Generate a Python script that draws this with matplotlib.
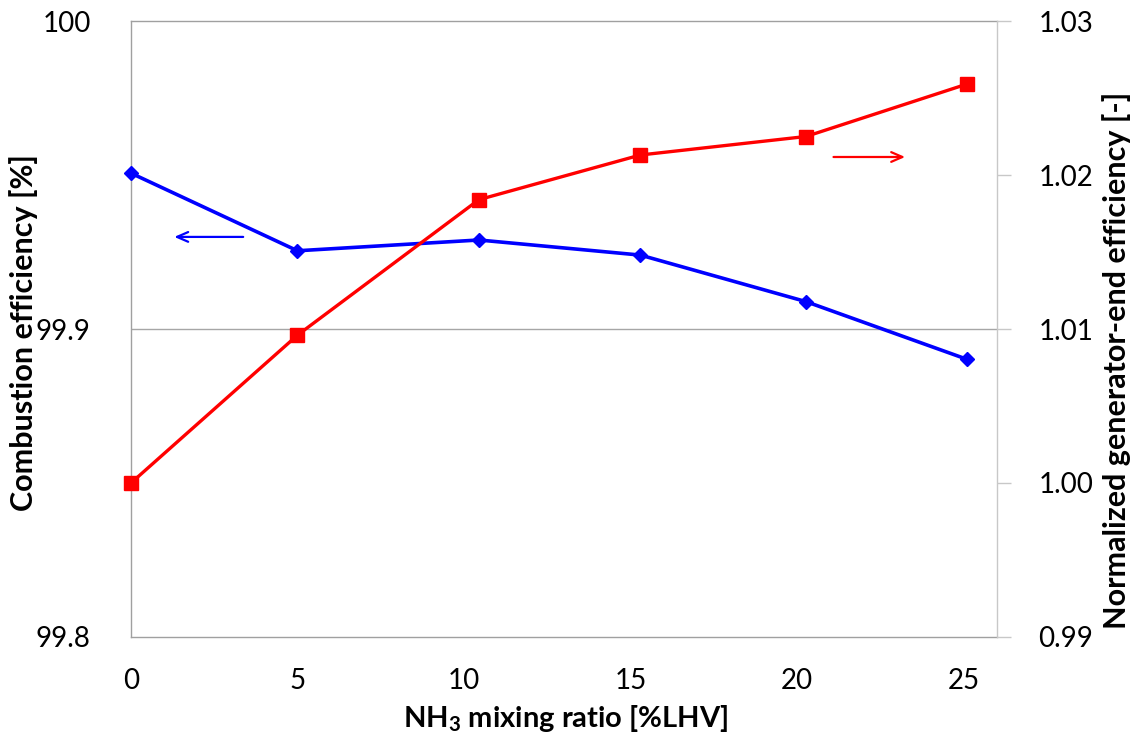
import matplotlib
matplotlib.use("Agg")
import matplotlib.pyplot as plt

plt.rcParams['font.family'] = ['Lato', 'DejaVu Sans']
plt.rcParams['mathtext.default'] = 'regular'

# NH3 mixing ratio [%LHV]
nh3_ratio = [0, 5.0, 10.45, 15.3, 20.27, 25.1]
# Combustion efficiency [%]  (left axis)
combustion_eff = [99.9506, 99.9254, 99.9289, 99.9240, 99.9089, 99.8902]
# Normalized generator-end efficiency [-]  (right axis)
generator_eff = [1.0000, 1.0096, 1.0184, 1.0213, 1.0225, 1.0259]

x_ticks = [0, 5, 10, 15, 20, 25]
left_ticks = [99.8, 99.9, 100.0]
left_labels = ['99.8', '99.9', '100']
right_ticks = [0.99, 1.00, 1.01, 1.02, 1.03]
right_labels = ['0.99', '1.00', '1.01', '1.02', '1.03']

BLUE = '#0000FF'
RED = '#FF0000'

W, H = 1138, 740
fig = plt.figure(figsize=(W / 100, H / 100), dpi=100)
ax = fig.add_axes([0.1151, 0.1392, 0.7607, 0.8324])
ax2 = ax.twinx()

ax.set_xlim(0, 26)
ax.set_ylim(99.8, 100.0)
ax2.set_ylim(0.99, 1.03)

# gridline for the left axis
ax.axhline(99.9, color='#a6a6a6', lw=1.0, zorder=0)

ax.plot(nh3_ratio, combustion_eff, color=BLUE, lw=2.6, marker='D', ms=7.5,
        mec=BLUE, mfc=BLUE, zorder=3, clip_on=False)
ax2.plot(nh3_ratio, generator_eff, color=RED, lw=2.4, marker='s', ms=9.5,
         mec=RED, mfc=RED, zorder=3, clip_on=False)

# axis-pointing arrows
ax.annotate('', xy=(1.30, 99.9299), xytext=(3.37, 99.9299),
            arrowprops=dict(arrowstyle='->,head_length=0.8,head_width=0.35',
                        color=BLUE, lw=1.6, shrinkA=0, shrinkB=0))
ax2.annotate('', xy=(23.25, 1.02117), xytext=(21.1, 1.02117),
             arrowprops=dict(arrowstyle='->,head_length=0.8,head_width=0.35',
                         color=RED, lw=1.6, shrinkA=0, shrinkB=0))

# spines
for a in (ax, ax2):
    for s in a.spines.values():
        s.set_linewidth(1.0)
ax.spines['left'].set_color('#a0a0a0')
ax.spines['bottom'].set_color('#a0a0a0')
ax.spines['top'].set_color('#a0a0a0')
ax.spines['right'].set_visible(False)
ax2.spines['left'].set_visible(False)
ax2.spines['top'].set_visible(False)
ax2.spines['bottom'].set_visible(False)
ax2.spines['right'].set_color('#c8c8c8')

ax.set_xticks(x_ticks)
ax.set_xticklabels([str(t) for t in x_ticks])
ax.set_yticks(left_ticks)
ax.set_yticklabels(left_labels)
ax2.set_yticks(right_ticks)
ax2.set_yticklabels(right_labels)

ax.tick_params(axis='x', length=0, pad=22, labelsize=20)
ax.tick_params(axis='y', length=0, pad=29, labelsize=20)
ax2.tick_params(axis='y', direction='out', length=10, width=1.0,
                color='#c8c8c8', pad=20, labelsize=20)

# axis titles
fig.text(566 / W, 1 - 718 / H, 'NH$\\mathregular{_3}$ mixing ratio [%LHV]',
         fontsize=21, fontweight='bold', ha='center', va='center')
fig.text(24 / W, 1 - 333 / H, 'Combustion efficiency [%]', fontsize=22,
         fontweight='bold', rotation=90, ha='center', va='center')
fig.text(1117 / W, 1 - 360 / H, 'Normalized generator-end efficiency [-]',
         fontsize=22, fontweight='bold', rotation=90, ha='center', va='center')

fig.savefig('out.png', dpi=100)
